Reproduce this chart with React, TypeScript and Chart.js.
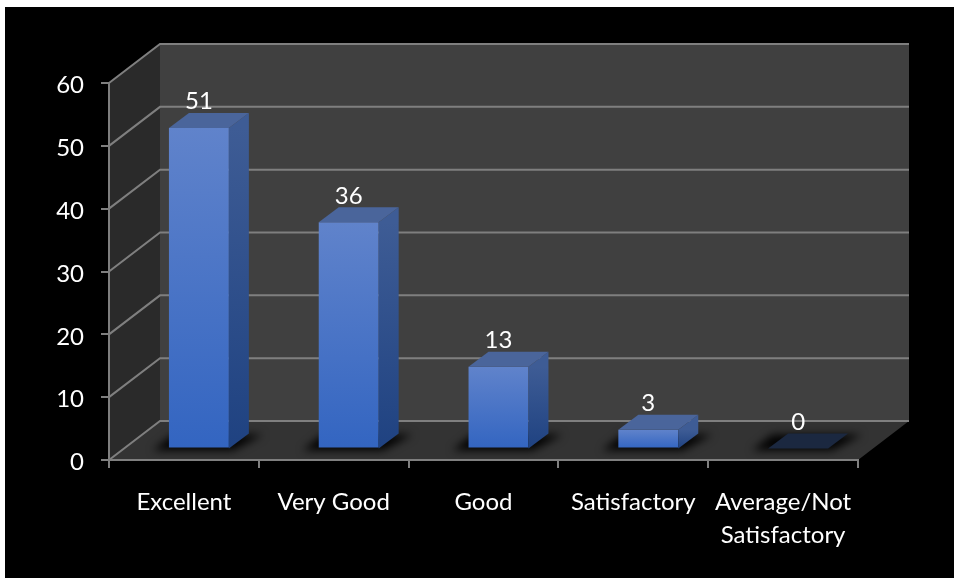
import React, { useEffect, useRef } from "react";
import { Chart, registerables } from "chart.js";

Chart.register(...registerables);

const categories: (string | string[])[] = ["Excellent", "Very Good", "Good", "Satisfactory", ["Average/Not", "Satisfactory"]];
const values = [51, 36, 13, 3, 0];
const yMax = 60;
const yStep = 10;

const FONT = "Lato, Carlito, sans-serif";
const LINE = "#7f7f7f";
const WALL_D = { x: 51, y: -39 };
const BAR_OFF = { x: 15, y: -11.5 };
const BAR_D = { x: 20, y: -15 };

function poly(ctx: CanvasRenderingContext2D, pts: number[][], fill: string | CanvasGradient) {
  ctx.beginPath();
  pts.forEach((p, i) => (i ? ctx.lineTo(p[0], p[1]) : ctx.moveTo(p[0], p[1])));
  ctx.closePath();
  ctx.fillStyle = fill;
  ctx.fill();
}

const scene3d = {
  id: "scene3d",
  beforeDraw(chart: any) {
    const { ctx, width, height, chartArea: a, scales } = chart;
    const y = scales.y;
    ctx.save();
    ctx.fillStyle = "#ffffff";
    ctx.fillRect(0, 0, width, height);
    ctx.fillStyle = "#000000";
    ctx.fillRect(5, 7, width - 5, height - 7);
    const dx = WALL_D.x, dy = WALL_D.y;
    poly(ctx, [[a.left + dx, a.top + dy], [a.right + dx, a.top + dy], [a.right + dx, a.bottom + dy], [a.left + dx, a.bottom + dy]], "#404040");
    poly(ctx, [[a.left, a.top], [a.left + dx, a.top + dy], [a.left + dx, a.bottom + dy], [a.left, a.bottom]], "#2a2a2a");
    poly(ctx, [[a.left, a.bottom], [a.right, a.bottom], [a.right + dx, a.bottom + dy], [a.left + dx, a.bottom + dy]], "#333333");

    // soft shadows on the floor behind each bar
    ctx.save();
    ctx.beginPath();
    ctx.moveTo(a.left, a.bottom);
    ctx.lineTo(a.right, a.bottom);
    ctx.lineTo(a.right + dx, a.bottom + dy);
    ctx.lineTo(a.left + dx, a.bottom + dy);
    ctx.closePath();
    ctx.clip();
    ctx.filter = "blur(4px)";
    chart.getDatasetMeta(0).data.forEach((el: any) => {
      const l = el.x - el.width / 2 + BAR_OFF.x, r = el.x + el.width / 2 + BAR_OFF.x;
      const b = y.getPixelForValue(0) + BAR_OFF.y;
      poly(ctx, [[l - 16, b + 2], [r + 4, b + 2], [r + BAR_D.x + 14, b + BAR_D.y + 1], [l + BAR_D.x - 16, b + BAR_D.y + 1]], "rgba(0,0,0,0.95)");
    });
    ctx.restore();

    // grid lines across the side wall and the back wall
    ctx.strokeStyle = LINE;
    ctx.lineWidth = 2;
    y.ticks.forEach((t: any) => {
      const py = y.getPixelForValue(t.value);
      ctx.beginPath();
      ctx.moveTo(a.left, py);
      ctx.lineTo(a.left + dx, py + dy);
      ctx.lineTo(a.right + dx, py + dy);
      ctx.stroke();
    });
    ctx.restore();
  },
  beforeDatasetDraw(chart: any) {
    chart.ctx.save();
    chart.ctx.translate(BAR_OFF.x, BAR_OFF.y);
  },
  afterDatasetDraw(chart: any) {
    const { ctx, scales } = chart;
    chart.getDatasetMeta(0).data.forEach((el: any, i: number) => {
      const l = el.x - el.width / 2, r = el.x + el.width / 2;
      const t = el.y, b = scales.y.getPixelForValue(0);
      const dx = BAR_D.x, dy = BAR_D.y;
      if (values[i] === 0) {
        poly(ctx, [[l, b], [r, b], [r + dx, b + dy], [l + dx, b + dy]], "#1b2840");
        return;
      }
      const g = ctx.createLinearGradient(0, t, 0, b);
      g.addColorStop(0, "#3e5c95");
      g.addColorStop(1, "#1f4281");
      poly(ctx, [[r, t], [r + dx, t + dy], [r + dx, b + dy], [r, b]], g);
      poly(ctx, [[l, t], [r, t], [r + dx, t + dy], [l + dx, t + dy]], "#4a659b");
    });
    ctx.restore();
  },
  afterDatasetsDraw(chart: any) {
    const { ctx, scales, chartArea } = chart;
    ctx.save();
    ctx.font = `24px ${FONT}`;
    ctx.fillStyle = "#ffffff";
    ctx.textBaseline = "middle";
    // value labels above each bar
    ctx.textAlign = "center";
    chart.getDatasetMeta(0).data.forEach((el: any, i: number) => {
      const y = scales.y.getPixelForValue(values[i]) + BAR_OFF.y + BAR_D.y - 12;
      ctx.fillText(String(values[i]), el.x + BAR_OFF.x, y + 0.5);
    });
    // value-axis tick labels
    ctx.textAlign = "right";
    scales.y.ticks.forEach((t: any) => {
      ctx.fillText(String(t.value), chartArea.left - 25, scales.y.getPixelForValue(t.value) + 2.5);
    });
    ctx.restore();
  },
};

export default function App() {
  const ref = useRef<HTMLCanvasElement>(null);
  useEffect(() => {
    const chart = new Chart(ref.current!, {
      type: "bar",
      data: {
        labels: categories as any,
        datasets: [
          {
            data: values,
            barPercentage: 0.4,
            categoryPercentage: 1,
            borderWidth: 0,
            backgroundColor: (c: any) => {
              const sy = c.chart.scales.y;
              const v = values[c.dataIndex];
              const top = sy ? sy.getPixelForValue(v) : NaN;
              const bot = sy ? sy.getPixelForValue(0) : NaN;
              if (!Number.isFinite(top) || !Number.isFinite(bot)) return "#3462bd";
              const g = c.chart.ctx.createLinearGradient(0, top, 0, bot);
              g.addColorStop(0, "#6083cb");
              g.addColorStop(1, "#3365c1");
              return g;
            },
          },
        ],
      },
      options: {
        responsive: false,
        animation: false,
        devicePixelRatio: 1,
        layout: { padding: { top: 83, right: 96, left: 0, bottom: 0 } },
        plugins: { legend: { display: false }, title: { display: false }, tooltip: { enabled: false } },
        scales: {
          x: {
            afterFit: (s: any) => { s.height = 118; },
            grid: { drawOnChartArea: false, drawTicks: true, tickLength: 8, color: LINE, lineWidth: 2 },
            border: { color: LINE, width: 2 },
            ticks: { color: "#ffffff", font: { family: FONT, size: 24, lineHeight: 1.37 }, padding: 18, maxRotation: 0, autoSkip: false },
          },
          y: {
            min: 0,
            max: yMax,
            afterFit: (s: any) => { s.width = 109; },
            grid: { drawOnChartArea: false, drawTicks: true, tickLength: 8, color: LINE, lineWidth: 2 },
            border: { color: LINE, width: 2 },
            ticks: { stepSize: yStep, display: false },
          },
        },
      },
      plugins: [scene3d as any],
    });
    return () => chart.destroy();
  }, []);
  return <canvas ref={ref} width={954} height={578} style={{ position: "absolute", left: 0, top: 0, display: "block" }} />;
}
